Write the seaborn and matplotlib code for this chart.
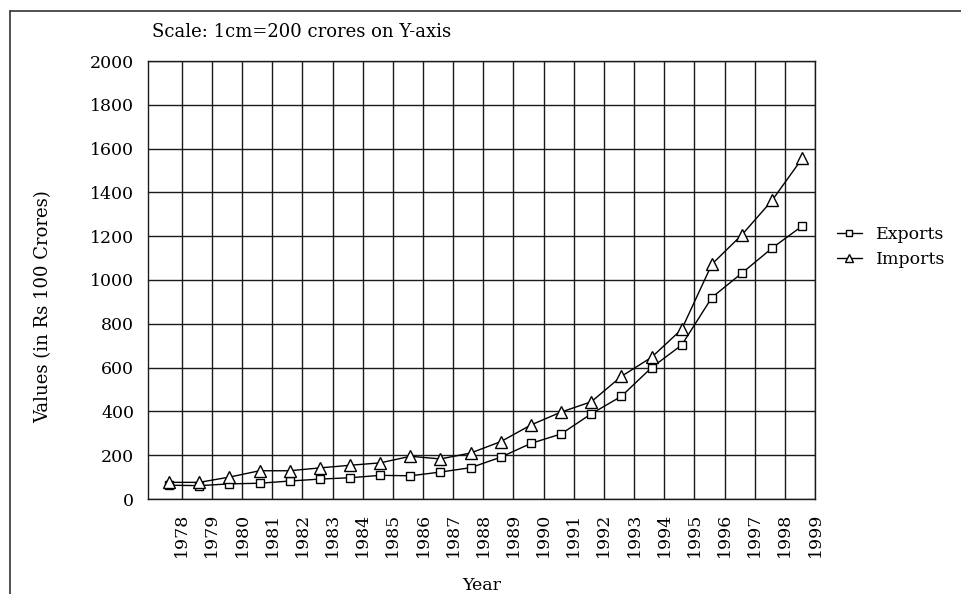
import matplotlib
matplotlib.use("Agg")
import matplotlib.pyplot as plt
import pandas as pd
import seaborn as sns
from matplotlib.lines import Line2D

# Data (values in Rs 100 crores)
years = list(range(1978, 2000))
exports = [63, 61, 69, 72, 82, 91, 97, 108, 106, 123, 143, 191,
           254, 297, 389, 469, 600, 703, 920, 1032, 1146, 1247]
imports = [76, 76, 100, 129, 129, 142, 154, 165, 195, 183, 210, 262,
           338, 397, 444, 560, 647, 775, 1072, 1207, 1364, 1556]
y_ticks = list(range(0, 2001, 200))


def build_frame():
    df = pd.DataFrame({"Year": years, "Exports": exports, "Imports": imports})
    # points sit a little to the left of each year's grid line
    df["pos"] = df["Year"] - 0.42
    return df


def plot_data(df):
    sns.set_theme(style="white", rc={"axes.edgecolor": "black",
                                     "text.color": "black",
                                     "axes.labelcolor": "black"})
    plt.rcParams["font.family"] = ["DejaVu Serif"]

    fig = plt.figure(figsize=(9.61, 5.94), dpi=100)
    ax = fig.add_axes([148 / 961, 1 - 499 / 594, (815 - 148) / 961, (499 - 61) / 594])

    sns.lineplot(data=df, x="pos", y="Exports", ax=ax, color="black", lw=1.0,
                 marker="s", markersize=5.5, markerfacecolor="white",
                 markeredgecolor="black", markeredgewidth=1.0, label="Exports")
    sns.lineplot(data=df, x="pos", y="Imports", ax=ax, color="black", lw=1.0,
                 marker="^", markersize=9, markerfacecolor="white",
                 markeredgecolor="black", markeredgewidth=1.0, label="Imports")

    ax.set_xlim(1976.88, 1999)
    ax.set_ylim(0, 2000)
    ax.set_xticks(years)
    ax.set_xticklabels([str(y) for y in years], rotation=90)
    ax.set_yticks(y_ticks)
    ax.set_yticklabels([str(v) for v in y_ticks])
    ax.tick_params(axis="both", length=0, labelsize=12.5, colors="black")
    ax.tick_params(axis="y", pad=10)
    ax.tick_params(axis="x", pad=10)
    ax.grid(True, color="#1a1a1a", lw=1.0)
    ax.set_axisbelow(True)
    for s in ax.spines.values():
        s.set_color("#1a1a1a")
        s.set_linewidth(1.0)

    ax.set_xlabel("Year", fontsize=12.5, labelpad=14)
    ax.set_ylabel("")
    fig.text(43 / 961, 1 - 307 / 594, "Values (in Rs 100 Crores)", rotation=90,
             ha="center", va="center", fontsize=13)
    fig.text(152 / 961, 1 - 32 / 594, "Scale: 1cm=200 crores on Y-axis",
             ha="left", va="center", fontsize=13)

    ax.legend(loc="center left", bbox_to_anchor=(1.01, 0.575), frameon=False,
              fontsize=12.5, markerscale=0.7, handlelength=1.4, handletextpad=0.8,
              labelspacing=0.5)

    # page border lines (top and left)
    fig.add_artist(Line2D([10 / 961, 1.0], [1 - 11 / 594, 1 - 11 / 594],
                          transform=fig.transFigure, color="#333333", lw=1.2))
    fig.add_artist(Line2D([10 / 961, 10 / 961], [1 - 11 / 594, 0.0],
                          transform=fig.transFigure, color="#333333", lw=1.2))

    fig.savefig("out.png", dpi=100)


def main():
    df = build_frame()
    plot_data(df)


if __name__ == "__main__":
    main()
